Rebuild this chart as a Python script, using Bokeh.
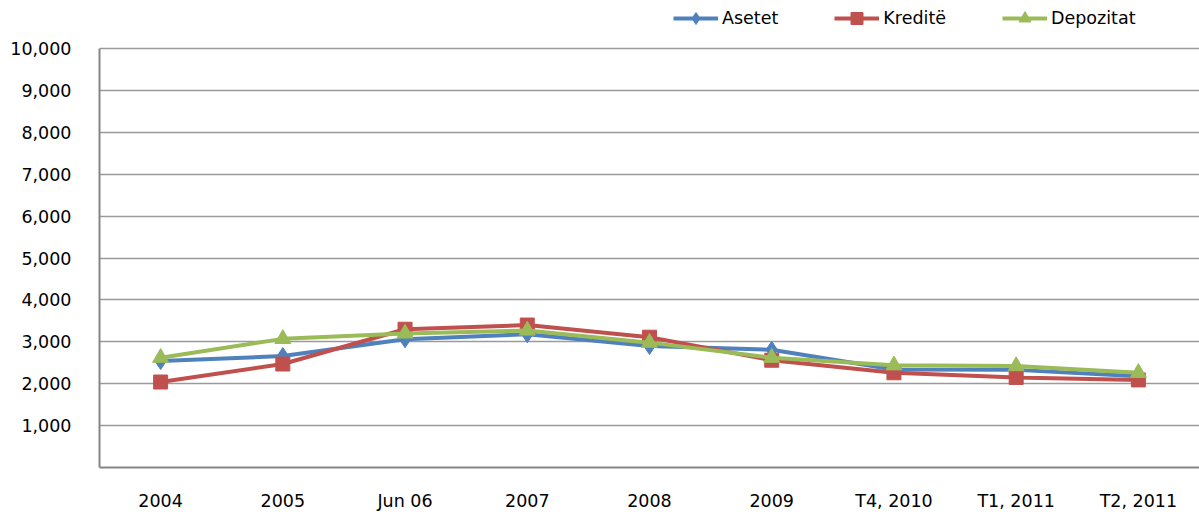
from bokeh.plotting import figure
from bokeh.models import (FactorRange, Range1d, FixedTicker, NumeralTickFormatter,
                          Legend, LegendItem)
from bokeh.embed import file_html
from bokeh.resources import INLINE

categories = ["2004", "2005", "Jun 06", "2007", "2008", "2009", "T4, 2010", "T1, 2011", "T2, 2011"]
asetet = [2540, 2660, 3060, 3180, 2900, 2810, 2340, 2330, 2180]
kredite = [2040, 2470, 3300, 3400, 3110, 2560, 2260, 2150, 2090]
depozitat = [2620, 3070, 3200, 3270, 2980, 2620, 2440, 2420, 2260]
y_ticks = [1000, 2000, 3000, 4000, 5000, 6000, 7000, 8000, 9000, 10000]

FONT = "DejaVu Sans"
W, H = 1199, 516
FRAME_BOTTOM = 49          # px below frame
TOP_GRID_PX = 48           # window y of the 10,000 line
frame_h = H - FRAME_BOTTOM
y_end = 10000 * frame_h / (frame_h - TOP_GRID_PX)

p = figure(width=W, height=H, output_backend="svg", toolbar_location=None,
           x_range=FactorRange(factors=categories, range_padding=0),
           y_range=Range1d(0, y_end),
           min_border_left=99, min_border_right=0, min_border_top=0,
           min_border_bottom=FRAME_BOTTOM)
p.outline_line_color = None
p.background_fill_color = "white"
p.border_fill_color = "white"

for ax in (p.xaxis[0], p.yaxis[0]):
    ax.axis_line_color = "#868686"
    ax.axis_line_width = 2
    ax.major_tick_line_color = None
    ax.minor_tick_line_color = None
    ax.major_label_text_font = FONT
    ax.major_label_text_font_size = "17.5px"
    ax.major_label_text_color = "#000000"

p.xaxis[0].major_label_standoff = 17
p.yaxis[0].major_label_standoff = 22
p.yaxis[0].bounds = (0, 10000)
p.yaxis[0].ticker = FixedTicker(ticks=y_ticks)
p.yaxis[0].formatter = NumeralTickFormatter(format="0,0")
p.xgrid.grid_line_color = None
p.ygrid.ticker = FixedTicker(ticks=y_ticks)
p.ygrid.grid_line_color = "#9a9a9a"
p.ygrid.grid_line_width = 1.5

series = [
    ("Asetet", asetet, "#4F81BD", "diamond", 17),
    ("Kreditë", kredite, "#C0504D", "square", 14),
    ("Depozitat", depozitat, "#9BBB59", "triangle", 16),
]
items = []
for name, vals, color, marker, size in series:
    l = p.line(categories, vals, line_color=color, line_width=4)
    s = p.scatter(categories, vals, marker=marker, size=size, fill_color=color, line_color=color)
    items.append(LegendItem(label=name, renderers=[l, s]))

legend = Legend(items=items, orientation="horizontal",
                location=(673 - 99, frame_h - 33),
                glyph_width=45, glyph_height=30, label_standoff=4, spacing=56,
                padding=0, margin=0, border_line_color=None, background_fill_alpha=0,
                label_text_font=FONT, label_text_font_size="17.5px", label_text_color="#000000")
p.add_layout(legend, "center")

open("out.html", "w").write(file_html(p, INLINE))
